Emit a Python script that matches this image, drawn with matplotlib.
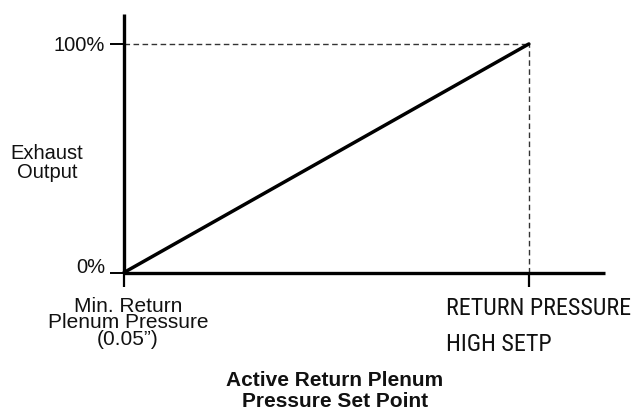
import matplotlib
matplotlib.use("Agg")
import matplotlib.pyplot as plt

# Control ramp: exhaust output vs. return plenum pressure set point
setpoint = [0.0, 1.0]          # min return plenum pressure -> high set point
exhaust_output = [0.0, 100.0]  # percent

y_ticks = [0, 100]
y_tick_labels = ["0%", "100%"]
x_label_low = "Min. Return\nPlenum Pressure\n(0.05\u201d)"
x_label_high = "RETURN PRESSURE\nHIGH SETP"
y_title = "Exhaust\nOutput"
x_title = "Active Return Plenum\nPressure Set Point"

TXT = "#111111"
fig = plt.figure(figsize=(6.34, 4.11), dpi=100)
ax = fig.add_axes([124 / 634, 1 - 272.5 / 411, 481 / 634, 258.5 / 411])
ax.set_xlim(0, 1.188)
ax.set_ylim(0, 113.1)

for s in ("top", "right"):
    ax.spines[s].set_visible(False)
for s in ("left", "bottom"):
    ax.spines[s].set_linewidth(2.4)
    ax.spines[s].set_color("black")
    ax.spines[s].set_capstyle("butt")

# guide lines to the top of the ramp
ax.plot([setpoint[0], setpoint[1]], [exhaust_output[1], exhaust_output[1]],
        color="#333333", lw=1.0, ls=(0, (4, 2.5)), clip_on=False)
ax.plot([setpoint[1], setpoint[1]], [exhaust_output[0], exhaust_output[1]],
        color="#333333", lw=1.0, ls=(0, (4, 2.5)), clip_on=False)

# the ramp
ax.plot(setpoint, exhaust_output, color="black", lw=2.5, solid_capstyle="round", clip_on=False)

ax.set_yticks(y_ticks, y_tick_labels, family=["Liberation Sans"], fontsize=14.5, color=TXT)
ax.tick_params(axis="y", direction="out", length=10, width=1.4, pad=3.5)
ax.set_xticks(setpoint)
ax.tick_params(axis="x", direction="out", length=10, width=1.6, labelbottom=False)
# the 0% label sits on its tick
ax.get_yticklabels()[0].set_verticalalignment("baseline")

xt = ax.get_xaxis_transform()
ax.text(setpoint[0] + 0.01, -0.095, x_label_low, transform=xt, ha="center", va="top",
        family=["Liberation Sans"], fontsize=15, linespacing=0.82, color=TXT)
ax.text(setpoint[1] - 0.205, -0.093, x_label_high, transform=xt, ha="left", va="top",
        family=["Roboto Condensed", "Roboto"], fontsize=17.3, linespacing=1.72, color=TXT)

fig.text(47 / 634, 1 - 163 / 411, y_title, ha="center", va="center",
         family=["Liberation Sans"], fontsize=14.5, linespacing=1.0, color=TXT)
fig.text(335 / 634, 1 - 391 / 411, x_title, ha="center", va="center",
         family=["Liberation Sans"], fontweight="bold", fontsize=15, linespacing=1.1, color=TXT)

fig.savefig("out.png", dpi=100)
